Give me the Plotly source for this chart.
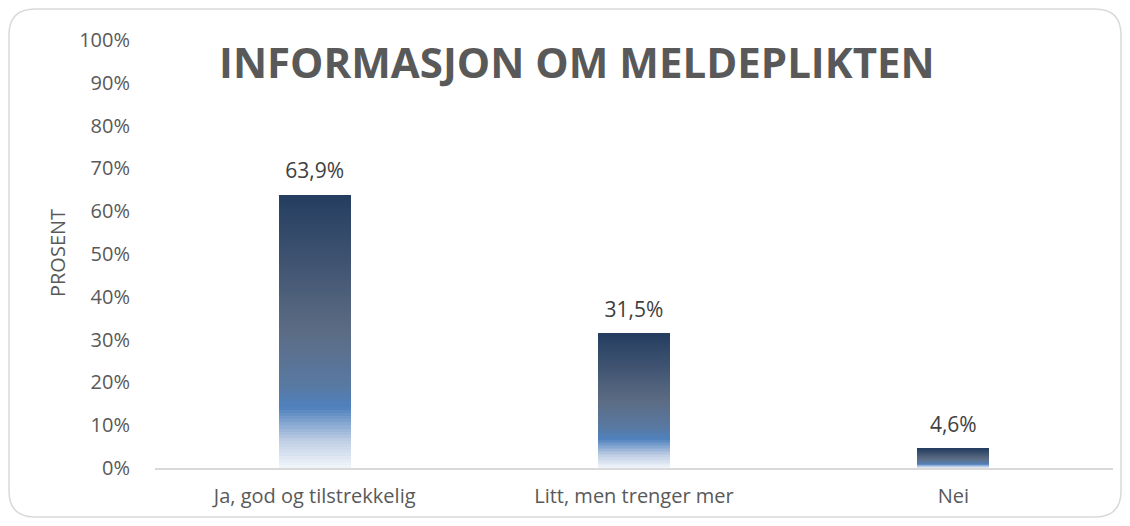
import plotly.graph_objects as go

categories = ["Ja, god og tilstrekkelig", "Litt, men trenger mer", "Nei"]
values = [63.9, 31.5, 4.6]
value_labels = ["63,9%", "31,5%", "4,6%"]
tick_vals = [0, 10, 20, 30, 40, 50, 60, 70, 80, 90, 100]
tick_text = [f"{v}%" for v in tick_vals]
title_text = "INFORMASJON OM MELDEPLIKTEN"
y_title = "PROSENT"

W, H = 1130, 526
L, R, T, B = 155, 17, 40, 58
PW, PH = W - L - R, H - T - B
FONT = "Open Sans, Lato, sans-serif"

stops = [
    (0.00, (242, 246, 251)),
    (0.10, (192, 207, 230)),
    (0.22, (79, 129, 189)),
    (0.30, (88, 121, 163)),
    (0.50, (92, 108, 132)),
    (0.75, (64, 84, 113)),
    (1.00, (36, 62, 96)),
]

def interp(f):
    for (a, ca), (b, cb) in zip(stops[:-1], stops[1:]):
        if a <= f <= b:
            t = (f - a) / (b - a)
            c = [round(ca[i] + (cb[i] - ca[i]) * t) for i in range(3)]
            return f"rgb({c[0]},{c[1]},{c[2]})"
    c = stops[-1][1]
    return f"rgb({c[0]},{c[1]},{c[2]})"

N = 90
fig = go.Figure()
for k in range(N):
    f = (k + 0.5) / N
    fig.add_trace(go.Bar(
        x=categories, y=[v / N for v in values],
        marker=dict(color=interp(f), line=dict(width=0)),
        width=0.226, showlegend=False, hoverinfo="skip",
    ))

fig.add_trace(go.Scatter(
    x=categories, y=values, mode="markers+text", text=value_labels,
    textposition="top center",
    marker=dict(size=16, opacity=0),
    textfont=dict(family=FONT, size=21, color="#404040"),
    showlegend=False, hoverinfo="skip", cliponaxis=False,
))

def px_x(p):
    return (p - L) / PW

def px_y(p):
    return (H - B - p) / PH

x0, x1, y0, y1, r = 9, 1121, 9, 517, 26
path = (
    f"M {px_x(x0 + r)},{px_y(y0)} L {px_x(x1 - r)},{px_y(y0)} "
    f"Q {px_x(x1)},{px_y(y0)} {px_x(x1)},{px_y(y0 + r)} "
    f"L {px_x(x1)},{px_y(y1 - r)} Q {px_x(x1)},{px_y(y1)} {px_x(x1 - r)},{px_y(y1)} "
    f"L {px_x(x0 + r)},{px_y(y1)} Q {px_x(x0)},{px_y(y1)} {px_x(x0)},{px_y(y1 - r)} "
    f"L {px_x(x0)},{px_y(y0 + r)} Q {px_x(x0)},{px_y(y0)} {px_x(x0 + r)},{px_y(y0)} Z"
)

fig.update_layout(
    width=W, height=H,
    margin=dict(l=L, r=R, t=T, b=B),
    barmode="stack", bargap=0,
    paper_bgcolor="white", plot_bgcolor="white",
    font=dict(family=FONT, size=20, color="#595959"),
    shapes=[dict(type="path", xref="paper", yref="paper", path=path,
                 line=dict(color="#d9d9d9", width=1.5), fillcolor="rgba(0,0,0,0)",
                 layer="below")],
    annotations=[
        dict(text=f"<b>{title_text}</b>", xref="paper", yref="paper",
             x=px_x(577), y=px_y(62), xanchor="center", yanchor="middle",
             showarrow=False,
             font=dict(family="Open Sans, sans-serif", size=42, color="#595959")),
        dict(text=y_title, xref="paper", yref="paper",
             x=px_x(57), y=px_y(253), xanchor="center", yanchor="middle",
             textangle=-90, showarrow=False,
             font=dict(family=FONT, size=20, color="#595959")),
    ],
)
fig.update_xaxes(showgrid=False, showline=True, linecolor="#d9d9d9", linewidth=1.5,
                 ticks="outside", ticklen=9, tickcolor="rgba(0,0,0,0)",
                 tickfont=dict(family=FONT, size=20, color="#595959"))
fig.update_yaxes(range=[0, 100], tickvals=tick_vals, ticktext=tick_text,
                 showgrid=False, zeroline=False, showline=False,
                 ticks="outside", ticklen=20, tickcolor="rgba(0,0,0,0)",
                 tickfont=dict(family=FONT, size=20, color="#595959"))

fig.write_html("out.html", post_script="document.body.style.margin='0';",
               config={"displayModeBar": False})
